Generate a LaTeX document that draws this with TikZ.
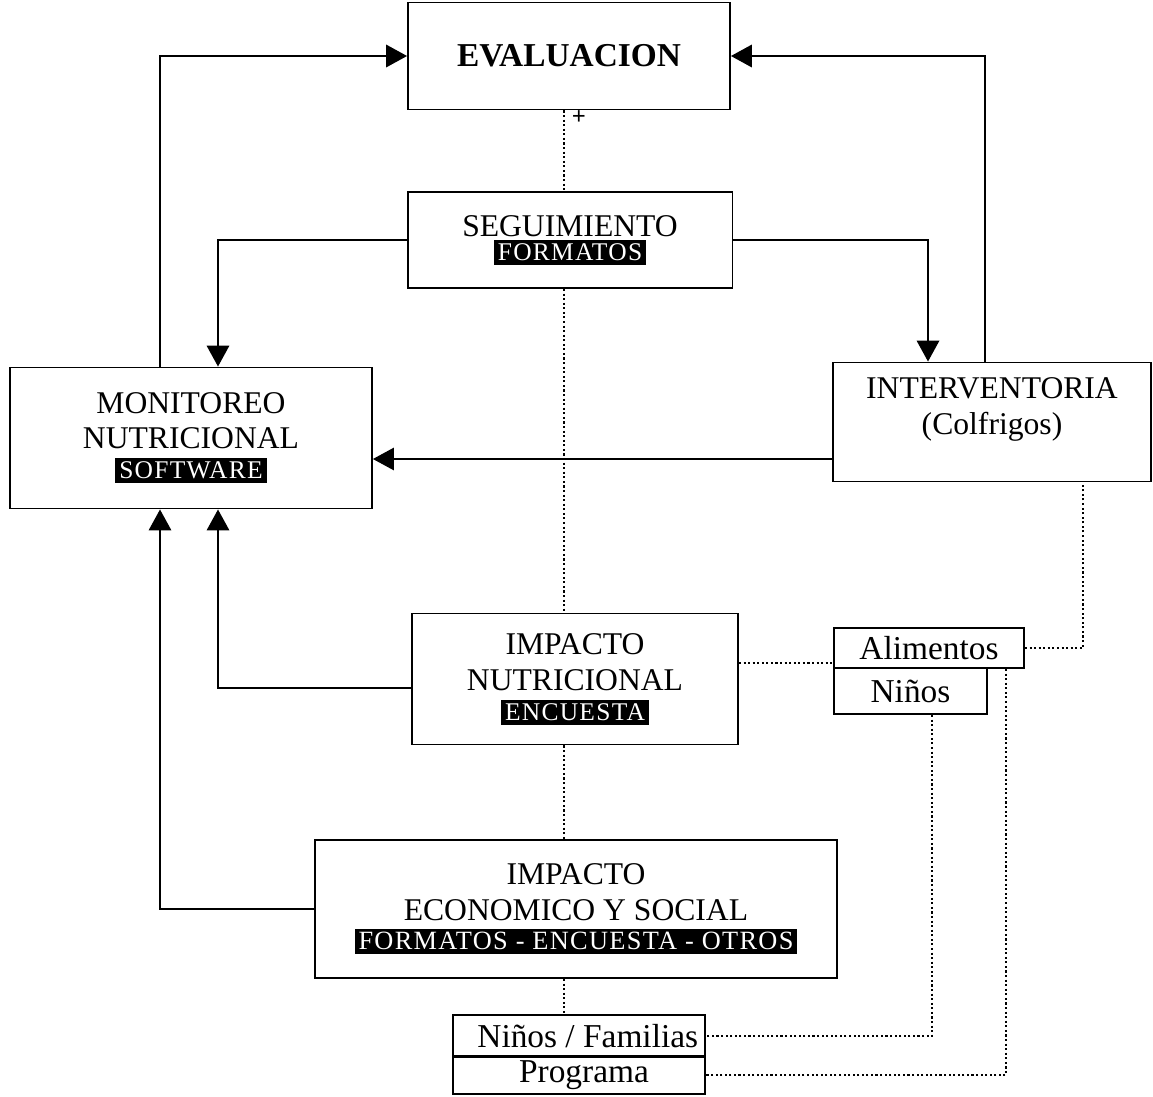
\documentclass[tikz,border=0pt]{standalone}
\usepackage{fontspec}
\setmainfont{Liberation Serif}
\usetikzlibrary{arrows.meta}

% white caps on a black band
\newcommand{\tagtext}[2][14.5]{{\setlength{\fboxsep}{2.2pt}\colorbox{black}{\color{white}\fontsize{#1}{#1}\selectfont\addfontfeature{LetterSpace=5}#2}}}

\begin{document}
\begin{tikzpicture}[x=0.02cm, y=-0.02cm, line width=1.1pt]
      \tikzstyle{box}=[draw, align=center, inner sep=0pt, font=\fontsize{18}{20}\selectfont]
      \tikzstyle{item box}=[box, font=\fontsize{19}{20}\selectfont]
      \tikzstyle{arr}=[-{Triangle[length=0.42cm,width=0.45cm]}]
      \tikzstyle{dots}=[line width=1.1pt, dash pattern=on 1.2pt off 1.4pt]

      \useasboundingbox (0,0) rectangle (1153,1096);

      % Draw the main boxes
      \node[box, minimum width=6.44cm, minimum height=2.14cm, font=\fontsize{19}{20}\selectfont\bfseries] (eval) at (569,56) {EVALUACION};
      \node[font=\fontsize{14}{14}\selectfont\bfseries, inner sep=0pt] (plus) at (579,118) {+};
      \node[box, minimum width=6.5cm, minimum height=1.92cm] (segu) at (570,240) {SEGUIMIENTO\\[-6pt]\tagtext{FORMATOS}};
      \node[box, minimum width=7.24cm, minimum height=2.82cm] (moni) at (191,438) {MONITOREO\\NUTRICIONAL\\[-3pt]\tagtext{SOFTWARE}};
      \node[box, minimum width=6.36cm, minimum height=2.38cm] (inter) at (992,422) {\begin{tabular}{@{}c@{}}INTERVENTORIA\\(Colfrigos)\\[0.5cm]\end{tabular}};
      \node[box, minimum width=6.52cm, minimum height=2.62cm] (impn) at (575,679) {IMPACTO\\[1pt]NUTRICIONAL\\[-3pt]\tagtext{ENCUESTA}};
      \node[box, minimum width=10.44cm, minimum height=2.76cm] (impe) at (576,909) {IMPACTO\\ECONOMICO Y SOCIAL\\[-3pt]\tagtext[15]{FORMATOS - ENCUESTA - OTROS}};

      % Draw the small boxes
      \node[item box, minimum width=3.8cm, minimum height=0.8cm] (alim) at (929,648) {Alimentos};
      \node[item box, minimum width=3.06cm, minimum height=0.92cm] (ninos) at (910.5,691) {Niños};
      \node[box, minimum width=5.04cm, minimum height=0.84cm, font=\fontsize{19}{20}\selectfont] (fam) at (579,1036) {\hspace*{0.35cm}Niños / Familias};
      \node[box, minimum width=5.04cm, minimum height=0.76cm, font=\fontsize{19}{20}\selectfont] (prog) at (579,1075) {\hspace*{0.2cm}Programa};

      % Bend points
      \coordinate (xa) at (160,0);
      \coordinate (xb) at (218,0);
      \coordinate (xc) at (985,0);
      \coordinate (xd) at (928,0);
      \coordinate (xe) at (564,0);
      \coordinate (xf) at (1083,0);
      \coordinate (xg) at (932,0);
      \coordinate (xh) at (1006,0);
      \coordinate (yi) at (0,459);
      \coordinate (yn) at (0,688);
      \coordinate (yl) at (0,663);

      % Solid arrows
      \draw[arr] (moni.north -| xa) |- (eval.west);
      \draw[arr] (inter.north -| xc) |- (eval.east);
      \draw[arr] (segu.west) -| (moni.north -| xb);
      \draw[arr] (segu.east) -| (inter.north -| xd);
      \draw[arr, line width=0.7pt] (inter.west |- yi) -- (moni.east |- yi);
      \draw[arr] (impn.west |- yn) -| (moni.south -| xb);
      \draw[arr] (impe.west) -| (moni.south -| xa);

      % Dotted links
      \draw[dots] (eval.south -| xe) -- (segu.north -| xe);
      \draw[dots] (segu.south -| xe) -- (impn.north -| xe);
      \draw[dots] (impn.south -| xe) -- (impe.north -| xe);
      \draw[dots] (impe.south -| xe) -- (fam.north -| xe);
      \draw[dots] (impn.east |- yl) -- (alim.west |- yl);
      \draw[dots] (alim.east) -| (inter.south -| xf);
      \draw[dots] (ninos.south -| xg) |- (fam.east);
      \draw[dots] (alim.south -| xh) |- (prog.east);
\end{tikzpicture}
\end{document}
